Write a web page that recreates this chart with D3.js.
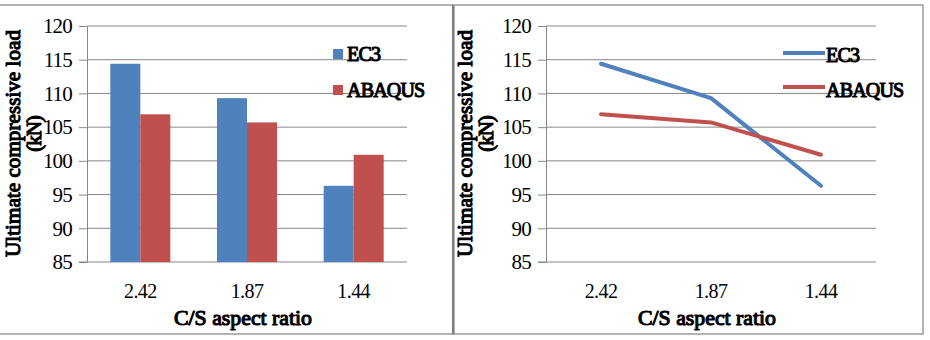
<!DOCTYPE html>
<html>
<head>
<meta charset="UTF-8">
<title>Ultimate compressive load</title>
<script src="https://cdn.jsdelivr.net/npm/d3@7"></script>
<style>
  body { margin: 0; background: #fff; }
  svg { display: block; }
  svg text { font-family: "Liberation Serif", serif; }
</style>
</head>
<body>
<div id="app"></div>
<script>
    var categories = ['2.42', '1.87', '1.44'];
    var seriesNames = ['EC3', 'ABAQUS'];
    var ec3 = [114.4, 109.3, 96.3];
    var abaqus = [106.9, 105.7, 100.9];
    var yTicks = [85, 90, 95, 100, 105, 110, 115, 120];
    var colors = ['#4F81BD', '#C0504D'];

    var svg = d3.select('#app').append('svg')
        .attr('width', 930).attr('height', 340);

    // panel frames
    svg.append('rect').attr('x', -2).attr('y', 5).attr('width', 455).attr('height', 329)
        .attr('fill', 'none').attr('stroke', '#9a9a9a').attr('stroke-width', 1.5);
    svg.append('rect').attr('x', 454).attr('y', 5).attr('width', 469).attr('height', 329)
        .attr('fill', 'none').attr('stroke', '#9a9a9a').attr('stroke-width', 1.5);
    svg.append('line').attr('x1', 453).attr('x2', 453).attr('y1', 5).attr('y2', 334)
        .attr('stroke', '#7f7f7f').attr('stroke-width', 2);

    var y = d3.scaleLinear().domain([85, 120]).range([262, 26]);

    // the bold face falls back to a sans font here, so thicken the regular serif instead
    function bold(sel) {
        return sel.attr('font-family', 'Liberation Serif').attr('fill', '#000')
            .attr('stroke', '#000').attr('stroke-width', 1.1).attr('stroke-linejoin', 'round');
    }

    function frame(left, right, titleX) {
        var g = svg.append('g');
        // gridlines
        g.selectAll('line.grid').data(yTicks.slice(1)).enter().append('line')
            .attr('x1', left).attr('x2', right)
            .attr('y1', function(d){ return y(d); }).attr('y2', function(d){ return y(d); })
            .attr('stroke', '#878787').attr('stroke-width', 1);
        // y axis
        var ya = g.append('g').attr('transform', 'translate(' + left + ',0)')
            .call(d3.axisLeft(y).tickValues(yTicks).tickSize(8).tickPadding(7).tickSizeOuter(0));
        ya.select('.domain').attr('stroke', '#878787');
        ya.selectAll('.tick line').attr('stroke', '#878787');
        ya.selectAll('.tick text').attr('font-size', 21).attr('fill', '#000')
            .attr('font-family', 'Liberation Serif').attr('letter-spacing', -0.8);
        // bottom axis line
        g.append('line').attr('x1', left - 8).attr('x2', right)
            .attr('y1', y(85)).attr('y2', y(85)).attr('stroke', '#878787');

        var x = d3.scaleBand().domain(categories).range([left, right]);
        g.selectAll('text.xl').data(categories).enter().append('text')
            .attr('x', function(d){ return x(d) + x.bandwidth() / 2; })
            .attr('y', 298).attr('text-anchor', 'middle')
            .attr('font-size', 20).attr('letter-spacing', -0.6)
            .text(function(d){ return d; });

        // axis titles
        var cx = (left + right) / 2;
        bold(g.append('text')).attr('x', cx - 4).attr('y', 325).attr('text-anchor', 'middle')
            .attr('font-size', 21)
            .attr('textLength', 138).attr('lengthAdjust', 'spacingAndGlyphs')
            .text('C/S aspect ratio');
        bold(g.append('text')).attr('transform', 'translate(' + titleX + ',143.5) rotate(-90)')
            .attr('text-anchor', 'middle').attr('font-size', 21)
            .attr('textLength', 227).attr('lengthAdjust', 'spacingAndGlyphs')
            .text('Ultimate compressive load');
        bold(g.append('text')).attr('transform', 'translate(' + (titleX + 21) + ',134) rotate(-90)')
            .attr('text-anchor', 'middle').attr('font-size', 21)
            .attr('letter-spacing', -1)
            .text('(kN)');
        return x;
    }

    // left: clustered bars
    var x0 = frame(87, 407, 20);
    var xb = d3.scaleBand().domain(categories).range([87, 407])
        .paddingInner(0.4375).paddingOuter(0.21875);
    var xs = d3.scaleBand().domain(seriesNames).range([0, xb.bandwidth()]);
    var data = [ec3, abaqus];
    seriesNames.forEach(function(name, si) {
        svg.append('g').selectAll('rect').data(data[si]).enter().append('rect')
            .attr('x', function(d, i){ return xb(categories[i]) + xs(name); })
            .attr('width', xs.bandwidth())
            .attr('y', function(d){ return y(d); })
            .attr('height', function(d){ return y(85) - y(d); })
            .attr('fill', colors[si]);
    });
    var legL = svg.append('g');
    seriesNames.forEach(function(name, si) {
        var cy = [54, 90][si];
        legL.append('rect').attr('x', 333).attr('y', cy - 5).attr('width', 10).attr('height', 10)
            .attr('fill', colors[si]);
        bold(legL.append('text')).attr('x', 347).attr('y', cy + 7).attr('font-size', 20)
            .attr('letter-spacing', -0.8).text(name);
    });

    // right: lines
    var xr = frame(546, 876, 472);
    var line = d3.line()
        .x(function(d, i){ return xr(categories[i]) + xr.bandwidth() / 2; })
        .y(function(d){ return y(d); });
    seriesNames.forEach(function(name, si) {
        svg.append('path').datum(data[si]).attr('d', line)
            .attr('fill', 'none').attr('stroke', colors[si]).attr('stroke-width', 4)
            .attr('stroke-linecap', 'round').attr('stroke-linejoin', 'round');
    });
    var legR = svg.append('g');
    seriesNames.forEach(function(name, si) {
        var cy = [53, 87][si];
        legR.append('line').attr('x1', 783).attr('x2', 825).attr('y1', cy).attr('y2', cy)
            .attr('stroke', colors[si]).attr('stroke-width', 4);
        bold(legR.append('text')).attr('x', 826).attr('y', [62, 97][si]).attr('font-size', 20)
            .attr('letter-spacing', -0.8).text(name);
    });
</script>
</body>
</html>
